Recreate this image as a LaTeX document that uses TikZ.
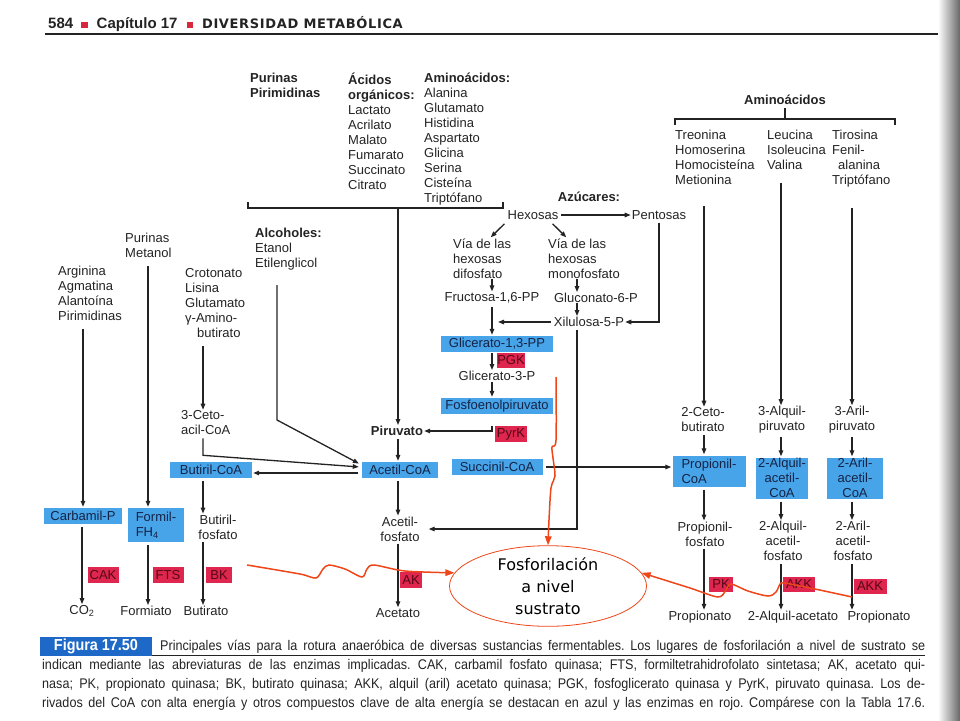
\documentclass[tikz,border=0pt]{standalone}
\usepackage{fontspec}
\setmainfont{Liberation Sans}
\newfontfamily\capsfont[LetterSpace=5]{DejaVu Sans}
\newfontfamily\capfont[FakeStretch=0.9]{Liberation Sans}
\newfontfamily\notefont{DejaVu Sans}
\usetikzlibrary{arrows.meta,shapes.geometric,calc}
\definecolor{ink}{RGB}{35,35,35}
\definecolor{boxblue}{RGB}{72,164,232}
\definecolor{boxred}{RGB}{222,38,78}
\definecolor{bluetext}{RGB}{20,35,70}
\definecolor{redtext}{RGB}{85,8,22}
\definecolor{annred}{RGB}{238,70,25}
\definecolor{capblue}{RGB}{30,105,200}
\definecolor{sqred}{RGB}{215,40,60}
\newcommand\dfont{\fontsize{13}{15}\selectfont}
\frenchspacing

\begin{document}
\begin{tikzpicture}[x=1pt, y=-1pt,
    every node/.style={font=\dfont, inner sep=0pt, text=ink},
    lst/.style={align=left, anchor=north west},
    bbox/.style={fill=boxblue, text=bluetext, align=center},
    rbox/.style={fill=boxred, text=redtext, minimum height=15pt},
    arr/.style={-{Triangle[length=6pt,width=4.5pt]}, line width=1.3pt, draw=ink,
                shorten >=1pt, shorten <=3pt},
    ln/.style={line width=1.3pt, draw=ink},
    redarr/.style={-{Triangle[length=9pt,width=6.5pt]}, line width=1.5pt, draw=annred},
]
    \useasboundingbox (0,0) rectangle (960,720);
    \shade[left color=white, right color=black!60] (938,0) rectangle (960,720);

    % header
    \node[anchor=base west, font=\fontsize{15}{17}\selectfont\bfseries] (head) at (48,28)
        {584\hspace{8pt}\textcolor{sqred}{\rule{6.5pt}{6.5pt}}\hspace{9pt}Capítulo 17\hspace{9pt}\textcolor{sqred}{\rule{6.5pt}{6.5pt}}\hspace{9pt}{\capsfont\fontsize{13}{15}\selectfont DIVERSIDAD METABÓLICA}};
    \draw[line width=1.5pt, ink] (45,34) -- (938,34);

    % column positions
    \coordinate (cC) at (82,0);  \coordinate (cF) at (148,0); \coordinate (cB) at (203,0);
    \coordinate (cA) at (398,0); \coordinate (cS) at (492,0); \coordinate (cX) at (577,0);
    \coordinate (cP) at (704,0); \coordinate (cQ) at (781,0); \coordinate (cR) at (852,0);

    % sources, top
    \node[lst, font=\dfont\bfseries] (purpir) at (250,73) {Purinas\\Pirimidinas};
    \node[lst] (acidos) at (348,73) {\textbf{Ácidos}\\\textbf{orgánicos:}\\Lactato\\Acrilato\\Malato\\Fumarato\\Succinato\\Citrato};
    \node[lst] (aminos) at (424,73) {\textbf{Aminoácidos:}\\Alanina\\Glutamato\\Histidina\\Aspartato\\Glicina\\Serina\\Cisteína\\Triptófano};
    \node[font=\dfont\bfseries] (aminoR) at (785,100) {Aminoácidos};
    \node[lst] (treo) at (675,130) {Treonina\\Homoserina\\Homocisteína\\Metionina};
    \node[lst] (leu) at (767,130) {Leucina\\Isoleucina\\Valina};
    \node[lst] (tiro) at (832,130) {Tirosina\\Fenil-\\\hspace{6pt}alanina\\Triptófano};

    % sources, left
    \node[lst] (purmet) at (125,233) {Purinas\\Metanol};
    \node[lst] (arg) at (58,266) {Arginina\\Agmatina\\Alantoína\\Pirimidinas};
    \node[lst] (croto) at (185,268) {Crotonato\\Lisina\\Glutamato\\γ-Amino-\\\hspace{12pt}butirato};
    \node[lst] (alcoh) at (255,228) {\textbf{Alcoholes:}\\Etanol\\Etilenglicol};

    % sugars
    \node[font=\dfont\bfseries] (azuc) at (589,197) {Azúcares:};
    \node (hex) at (533,215) {Hexosas};
    \node (pent) at (659,215) {Pentosas};
    \node[lst] (viadi) at (453,239) {Vía de las\\hexosas\\difosfato};
    \node[lst] (viamono) at (548,239) {Vía de las\\hexosas\\monofosfato};
    \node (fruct) at (492,298) {Fructosa-1,6-PP};
    \node (glucon) at (596,298) {Gluconato-6-P};
    \node (xil) at (589,322) {Xilulosa-5-P};
    \node[bbox, minimum width=112pt, minimum height=16pt] (glic13) at (497,344) {Glicerato-1,3-PP};
    \node[rbox, minimum width=28pt] (pgk) at (511,360) {PGK};
    \node (glic3) at (497,376) {Glicerato-3-P};
    \node[bbox, minimum width=112pt, minimum height=16pt] (pep) at (497,406) {Fosfoenolpiruvato};
    \node[rbox, minimum width=32pt, minimum height=16pt] (pyrk) at (511,434) {PyrK};
    \node[bbox, minimum width=91pt, minimum height=16pt] (succ) at (497,467) {Succinil-CoA};

    % acetate column
    \node[font=\dfont\bfseries] (piru) at (397,431) {Piruvato};
    \node[bbox, minimum width=76pt, minimum height=16pt] (acoa) at (400,470) {Acetil-CoA};
    \node[align=center] (afos) at (400,529) {Acetil-\\fosfato};
    \node[rbox, minimum width=22pt, minimum height=16pt] (ak) at (411,580) {AK};
    \node (acet) at (398,613) {Acetato};

    % left columns
    \node[align=left, anchor=west] (ceto3) at (181,423) {3-Ceto-\\acil-CoA};
    \node[bbox, minimum width=82pt, minimum height=16pt] (bcoa) at (211,470) {Butiril-CoA};
    \node[bbox, minimum width=78pt, minimum height=16pt] (carb) at (83,516) {Carbamil-P};
    \node[bbox, minimum width=56pt, minimum height=34pt, align=left] (formil) at (156,525) {Formil-\\FH\textsubscript{4}};
    \node[align=center] (bfos) at (218,527) {Butiril-\\fosfato};
    \node[rbox, minimum width=31pt, minimum height=16pt] (cak) at (103,575) {CAK};
    \node[rbox, minimum width=31pt, minimum height=16pt] (fts) at (168,575) {FTS};
    \node[rbox, minimum width=26pt, minimum height=16pt] (bk) at (219,575) {BK};
    \node (co2) at (82,611) {CO\textsubscript{2}};
    \node (form) at (146,611) {Formiato};
    \node (buti) at (206,611) {Butirato};

    % right columns
    \node[align=center] (ceto2) at (703,420) {2-Ceto-\\butirato};
    \node[align=center] (alq3) at (782,420) {3-Alquil-\\piruvato};
    \node[align=center] (aril3) at (852,420) {3-Aril-\\piruvato};
    \node[bbox, minimum width=73pt, minimum height=31pt, align=left] (pcoa) at (709,471) {Propionil-\\CoA};
    \node[bbox, minimum width=52pt, minimum height=41pt] (qcoa) at (782,478) {2-Alquil-\\acetil-\\CoA};
    \node[bbox, minimum width=56pt, minimum height=41pt] (rcoa) at (855,478) {2-Aril-\\acetil-\\CoA};
    \node[align=center] (pfos) at (705,534) {Propionil-\\fosfato};
    \node[align=center] (qfos) at (783,541) {2-Alquil-\\acetil-\\fosfato};
    \node[align=center] (rfos) at (853,541) {2-Aril-\\acetil-\\fosfato};
    \node[rbox, minimum width=24pt] (pk) at (721,584) {PK};
    \node[rbox, minimum width=32pt] (akk1) at (799,584) {AKK};
    \node[rbox, minimum width=33pt] (akk2) at (870,586) {AKK};
    \node (prop1) at (700,617) {Propionato};
    \node (qacet) at (793,617) {2-Alquil-acetato};
    \node (prop2) at (879,617) {Propionato};

    % brackets
    \coordinate (brM) at (398,208);
    \draw[ln] (248,202) -- (248,208) -- (503,208) -- (503,202);
    \draw[arr, shorten <=0pt] (brM) -- (cA |- piru.north);
    \coordinate (brR) at (785,119);
    \draw[ln] (675,125) -- (675,119) -- (895,119) -- (895,125);
    \draw[ln] ($(aminoR.south)+(0,3)$) -- (brR);

    % right columns
    \coordinate (treE) at (704,203); \coordinate (leuE) at (781,180); \coordinate (tirE) at (852,205);
    \draw[arr] (treE) -- (cP |- ceto2.north);
    \draw[arr] (leuE) -- (cQ |- alq3.north);
    \draw[arr] (tirE) -- (cR |- aril3.north);
    \draw[arr] (cP |- ceto2.south) -- (cP |- pcoa.north);
    \draw[arr] (cQ |- alq3.south) -- (cQ |- qcoa.north);
    \draw[arr] (cR |- aril3.south) -- (cR |- rcoa.north);
    \draw[arr] (cP |- pcoa.south) -- (cP |- pfos.north);
    \draw[arr] (cQ |- qcoa.south) -- (cQ |- qfos.north);
    \draw[arr] (cR |- rcoa.south) -- (cR |- rfos.north);
    \draw[arr] (cP |- pfos.south) -- (cP |- prop1.north);
    \draw[arr] (cQ |- qfos.south) -- (cQ |- qacet.north);
    \draw[arr] (cR |- rfos.south) -- (cR |- prop2.north);

    % left columns
    \coordinate (argE) at (83,326); \coordinate (pmE) at (148,263);
    \coordinate (crE) at (203,343); \coordinate (alcE) at (277,282);
    \draw[arr] (argE) -- (argE |- carb.north);
    \draw[arr] (pmE) -- (cF |- formil.north);
    \draw[arr] (crE) -- (cB |- ceto3.north);
    \draw[arr] (cB |- ceto3.south) -- ++(0,20) -- ($(acoa.west)+(-2,-3)$);
    \draw[arr] (alcE) -- ++(0,138) -- ($(acoa.west)+(-2,-6)$);
    \draw[arr] ($(acoa.west)+(-1,3)$) -- ($(bcoa.east)+(0,3)$);
    \draw[arr] (cB |- bcoa.south) -- (cB |- bfos.north);
    \draw[arr] (cB |- bfos.south) -- (cB |- buti.north);
    \draw[arr] (cC |- carb.south) -- (cC |- co2.north);
    \draw[arr] (cF |- formil.south) -- (cF |- form.north);

    % acetate column
    \draw[arr] (cA |- piru.south) -- (cA |- acoa.north);
    \draw[arr] (cA |- acoa.south) -- (cA |- afos.north);
    \draw[arr] (cA |- afos.south) -- (cA |- acet.north);

    % sugars
    \draw[arr] (hex.east) -- (pent.west);
    \draw[arr] ($(hex.south west)+(-1,2)$) -- ($(viadi.north west)+(37,-1)$);
    \draw[arr] ($(hex.south east)+(-8,2)$) -- ($(viamono.north west)+(19,-1)$);
    \draw[arr, shorten <=0pt] (cS |- viadi.south) -- (cS |- fruct.north);
    \draw[arr, shorten <=0pt] (cX |- viamono.south) -- (cX |- glucon.north);
    \draw[arr, shorten <=0pt] (cX |- glucon.south) -- (cX |- xil.north);
    \draw[arr] (pent.south) |- (xil.east);
    \draw[arr] (xil.west) -- ($(cS |- xil.west)+(5,0)$);
    \draw[arr] (cS |- fruct.south) -- (cS |- glic13.north);
    \draw[arr] (cX |- xil.south) |- ($(afos.east)+(8,0)$);
    \draw[arr, shorten <=1pt] (cS |- glic13.south) -- (cS |- glic3.north);
    \draw[arr, shorten <=1pt] (cS |- glic3.south) -- (cS |- pep.north);
    \draw[arr, shorten <=0pt] ($(cS |- pep.south)+(0,12)$) |- (piru.east);
    \draw[arr] (succ.east) -- (succ.east -| pcoa.west);

    % substrate-level phosphorylation note
    \node[ellipse, draw=annred, line width=0.8pt, fill=white, minimum width=197pt,
          minimum height=72pt, align=center, text=black,
          font=\notefont\fontsize{16}{22}\selectfont] (fos) at (548,586)
          {Fosforilación\\a nivel\\sustrato};
    \coordinate (wL) at (247,565); \coordinate (wT) at (556,377); \coordinate (wR) at (852,597);
    \draw[redarr] plot[smooth, tension=0.5] coordinates {(wL) (300,574) (316,578) (323,569)
        (329,565) (345,569) (362,577) (367,569) (374,565) (405,571) (fos.172)};
    \draw[redarr] plot[smooth, tension=0.5] coordinates {(wT) (556,440) (552,447) (553,458)
        (555,476) (551,488) (549,520) (fos.north)};
    \draw[redarr] plot[smooth, tension=0.5] coordinates {(wR) (815,589) (790,584) (781,583)
        (776,592) (768,596) (748,591) (731,584) (726,590) (718,597) (690,588) (fos.8)};

    % caption
    \node[fill=capblue, text=white, font=\capfont\fontsize{16}{18}\selectfont\bfseries,
          minimum width=112pt, minimum height=19pt] (figlab) at (96,646) {Figura 17.50};
    \coordinate (capR) at (925,655);
    \draw[line width=0.7pt, ink] (figlab.south east) -- (figlab.south east -| capR);
    \node[anchor=base west, font=\capfont\fontsize{14}{16}\selectfont] (cap1) at (160,650)
        {\makebox[765pt][s]{Principales vías para la rotura anaeróbica de diversas sustancias fermentables. Los lugares de fosforilación a nivel de sustrato se}};
    \node[anchor=base west, font=\capfont\fontsize{14}{16}\selectfont] (cap2) at (42,669)
        {\makebox[883pt][s]{indican mediante las abreviaturas de las enzimas implicadas. CAK, carbamil fosfato quinasa; FTS, formiltetrahidrofolato sintetasa; AK, acetato qui-}};
    \node[anchor=base west, font=\capfont\fontsize{14}{16}\selectfont] (cap3) at (42,688)
        {\makebox[883pt][s]{nasa; PK, propionato quinasa; BK, butirato quinasa; AKK, alquil (aril) acetato quinasa; PGK, fosfoglicerato quinasa y PyrK, piruvato quinasa. Los de-}};
    \node[anchor=base west, font=\capfont\fontsize{14}{16}\selectfont] (cap4) at (42,707)
        {\makebox[883pt][s]{rivados del CoA con alta energía y otros compuestos clave de alta energía se destacan en azul y las enzimas en rojo. Compárese con la Tabla 17.6.}};
\end{tikzpicture}
\end{document}
